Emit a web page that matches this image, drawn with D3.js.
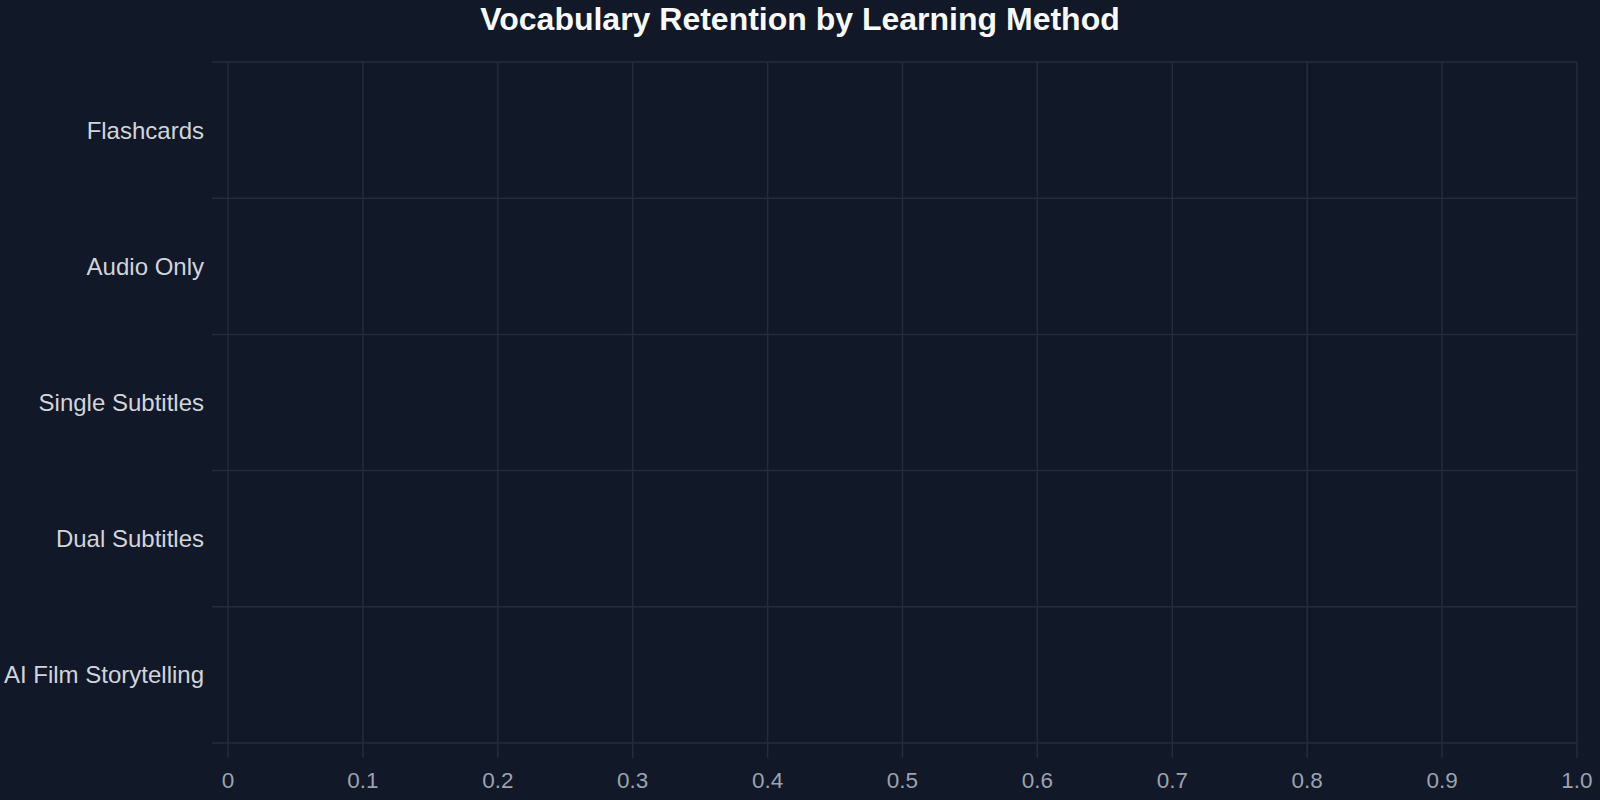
<!DOCTYPE html>
<html>
<head>
<meta charset="utf-8">
<script src="https://cdn.jsdelivr.net/npm/d3@7"></script>
<style>
  html, body { margin: 0; padding: 0; background: #111827; }
  svg { display: block; font-family: "Liberation Sans", Arial, sans-serif; }
</style>
</head>
<body>
<div id="chart"></div>
<script>
// learning methods, top to bottom
const methods = ['Flashcards', 'Audio Only', 'Single Subtitles', 'Dual Subtitles', 'AI Film Storytelling'];
// retention rate per method (no bars are shown in the reference)
const retention = [0, 0, 0, 0, 0];
const xTicks = [0, 0.1, 0.2, 0.3, 0.4, 0.5, 0.6, 0.7, 0.8, 0.9, 1.0];
const xTickLabels = ['0', '0.1', '0.2', '0.3', '0.4', '0.5', '0.6', '0.7', '0.8', '0.9', '1.0'];

const width = 1600, height = 800;
const margin = {top: 62, right: 23, bottom: 57, left: 228};
const gridColor = '#252d3c';

const svg = d3.select('#chart').append('svg')
    .attr('width', width)
    .attr('height', height);

svg.append('rect')
    .attr('width', width)
    .attr('height', height)
    .attr('fill', '#111827');

const xScale = d3.scaleLinear()
    .domain([0, 1])
    .range([margin.left, width - margin.right]);

const yScale = d3.scaleBand()
    .domain(methods)
    .range([margin.top, height - margin.bottom])
    .padding(0);

// vertical grid lines, running past the axis as ticks
svg.append('g')
    .selectAll('line')
    .data(xTicks)
    .enter().append('line')
    .attr('x1', d => xScale(d))
    .attr('x2', d => xScale(d))
    .attr('y1', margin.top)
    .attr('y2', height - margin.bottom + 15)
    .attr('stroke', gridColor)
    .attr('stroke-width', 1.5);

// horizontal lines on band edges
const edges = methods.map(m => yScale(m)).concat([yScale.range()[1]]);
svg.append('g')
    .selectAll('line')
    .data(edges)
    .enter().append('line')
    .attr('x1', margin.left - 16)
    .attr('x2', xScale(1))
    .attr('y1', d => d)
    .attr('y2', d => d)
    .attr('stroke', gridColor)
    .attr('stroke-width', 1.5);

// bars
svg.append('g')
    .selectAll('rect')
    .data(methods)
    .enter().append('rect')
    .attr('x', xScale(0))
    .attr('y', d => yScale(d) + yScale.bandwidth() * 0.15)
    .attr('width', (d, i) => xScale(retention[i]) - xScale(0))
    .attr('height', yScale.bandwidth() * 0.7)
    .attr('fill', '#6366f1');

// x tick labels
svg.append('g')
    .selectAll('text')
    .data(xTicks)
    .enter().append('text')
    .attr('x', d => xScale(d))
    .attr('y', 788)
    .attr('text-anchor', 'middle')
    .attr('fill', '#9ca3af')
    .style('font-size', '22.5px')
    .text((d, i) => xTickLabels[i]);

// category labels
svg.append('g')
    .selectAll('text')
    .data(methods)
    .enter().append('text')
    .attr('x', margin.left - 24)
    .attr('y', d => yScale(d) + yScale.bandwidth() / 2)
    .attr('dy', '0.35em')
    .attr('text-anchor', 'end')
    .attr('fill', '#d1d5db')
    .style('font-size', '24px')
    .text(d => d);

svg.append('text')
    .attr('x', width / 2)
    .attr('y', 30)
    .attr('text-anchor', 'middle')
    .attr('fill', '#f9fafb')
    .style('font-size', '32px')
    .style('font-weight', 'bold')
    .text('Vocabulary Retention by Learning Method');
</script>
</body>
</html>
